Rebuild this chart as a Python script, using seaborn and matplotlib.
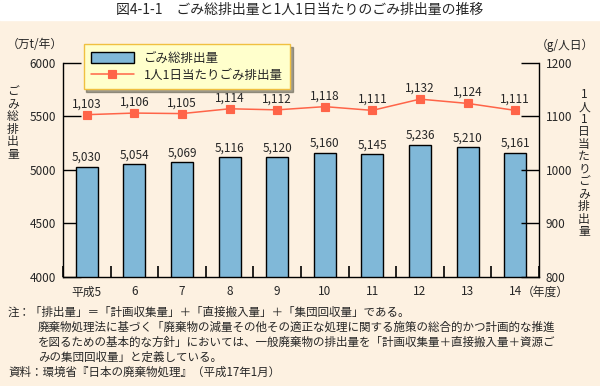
import numpy as np
import pandas as pd
import matplotlib
matplotlib.use('Agg')
from matplotlib import pyplot as plt
from matplotlib.ticker import FixedLocator
import seaborn as sb

years = ['平成5', '6', '7', '8', '9', '10', '11', '12', '13', '14']
total = [5030, 5054, 5069, 5116, 5120, 5160, 5145, 5236, 5210, 5161]
per_capita = [1103, 1106, 1105, 1114, 1112, 1118, 1111, 1132, 1124, 1111]

df = pd.DataFrame({'year': years, 'total': total, 'per_capita': per_capita})

sb.set_style('ticks')
plt.rcParams['font.family'] = ['Noto Sans CJK JP', 'DejaVu Sans']

bg = '#fdf1e1'
bar_col = '#80b8d8'
line_col = '#ff6448'

fig = plt.figure(figsize=(6.0, 3.86), dpi=100, facecolor=bg)
fig.patches.append(plt.Rectangle((0, 1 - 20 / 386), 1, 20 / 386,
                                 transform=fig.transFigure, color='white', zorder=0))
fig.text(0.5, 1 - 10 / 386, '図4-1-1　ごみ総排出量と1人1日当たりのごみ排出量の推移',
         ha='center', va='center', fontsize=10)

ax = fig.add_axes([63 / 600, 1 - 277 / 386, 476 / 600, 214.3 / 386])
ax.set_facecolor(bg)
sb.barplot(data=df, x='year', y='total', color=bar_col, width=0.46,
           edgecolor='black', linewidth=1, saturation=1, ax=ax,
           label='ごみ総排出量')
ax.set_ylim(4000, 6000)
ax.set_yticks([4000, 4500, 5000, 5500, 6000])
ax.set_xlim(-0.5, 9.5)
ax.set_xlabel('')
ax.set_ylabel('')
for i, v in enumerate(total):
    ax.text(i, v + 25, f'{v:,}', ha='center', va='bottom', fontsize=8.5)

ax2 = ax.twinx()
sb.pointplot(data=df, x='year', y='per_capita', color=line_col, markers='s',
             markersize=6, linewidth=1.1, ax=ax2, label='1人1日当たりごみ排出量')
ax2.set_ylim(800, 1200)
ax2.set_yticks([800, 900, 1000, 1100, 1200])
ax2.set_xlim(-0.5, 9.5)
ax2.set_ylabel('')
for i, v in enumerate(per_capita):
    ax2.text(i, v + 8, f'{v:,}', ha='center', va='bottom', fontsize=8.5)

for a in (ax, ax2):
    for s in a.spines.values():
        s.set_visible(False)
ax.spines['left'].set_visible(True)
ax.spines['bottom'].set_visible(True)
ax2.spines['right'].set_visible(True)
for s in (ax.spines['left'], ax.spines['bottom'], ax2.spines['right']):
    s.set_color('black')
    s.set_linewidth(1)

ax.tick_params(axis='y', left=True, direction='in', length=13, width=1,
               labelsize=8.5, pad=5, color='black')
ax2.tick_params(axis='y', right=True, direction='in', length=13, width=1,
                labelsize=8.5, pad=5, color='black')

# category labels at bar centres, small ticks at category boundaries
ax.xaxis.set_major_locator(FixedLocator(np.arange(10)))
ax.set_xticklabels(years[:-1] + ['14'], fontsize=8.5)
ax.xaxis.set_minor_locator(FixedLocator(np.arange(-0.5, 10, 1)))
ax.tick_params(axis='x', which='major', bottom=True, length=0, pad=6)
ax.tick_params(axis='x', which='minor', bottom=True, direction='in',
               length=8, width=1.2, color='black')
ax.text(9.13, -0.043, '（年度）', transform=ax.get_xaxis_transform(),
        ha='left', va='top', fontsize=8.5)

# legend
h1, l1 = ax.get_legend_handles_labels()
h2, l2 = ax2.get_legend_handles_labels()
if ax.get_legend() is not None:
    ax.get_legend().remove()
ax2.set_zorder(ax.get_zorder() + 1)
ax2.patch.set_visible(False)
leg = ax2.legend(h1 + h2, l1 + l2, loc='upper left', bbox_to_anchor=(0.03, 1.115),
                 frameon=True, fancybox=False, shadow=True, fontsize=9,
                 facecolor='#ffffcc', edgecolor='#f0c040', framealpha=1,
                 handlelength=3.4, handleheight=1.0, borderpad=0.6,
                 labelspacing=0.3)
leg.get_frame().set_linewidth(1)

# axis unit labels
fig.text(35 / 600, 1 - 45 / 386, '（万t/年）', ha='center', va='center', fontsize=8.5)
fig.text(565 / 600, 1 - 45 / 386, '（g/人日）', ha='center', va='center', fontsize=8.5)
fig.text(13 / 600, 1 - 123 / 386, '\n'.join('ごみ総排出量'), ha='center', va='center',
         fontsize=8.5, linespacing=0.95)
fig.text(584 / 600, 1 - 163 / 386, '\n'.join('1人1日当たりごみ排出量'), ha='center',
         va='center', fontsize=8.5, linespacing=0.95)

# notes
notes = [
    (8, 312, '注：「排出量」＝「計画収集量」＋「直接搬入量」＋「集団回収量」である。'),
    (38, 327, '廃棄物処理法に基づく「廃棄物の減量その他その適正な処理に関する施策の総合的かつ計画的な推進'),
    (38, 342, 'を図るための基本的な方針」においては、一般廃棄物の排出量を「計画収集量＋直接搬入量＋資源ご'),
    (38, 357, 'みの集団回収量」と定義している。'),
    (8, 372, '資料：環境省『日本の廃棄物処理』（平成17年1月）'),
]
for x, y, t in notes:
    fig.text(x / 600, 1 - y / 386, t, ha='left', va='center', fontsize=8.3)

plt.savefig('out.png', dpi=100, facecolor=bg)
